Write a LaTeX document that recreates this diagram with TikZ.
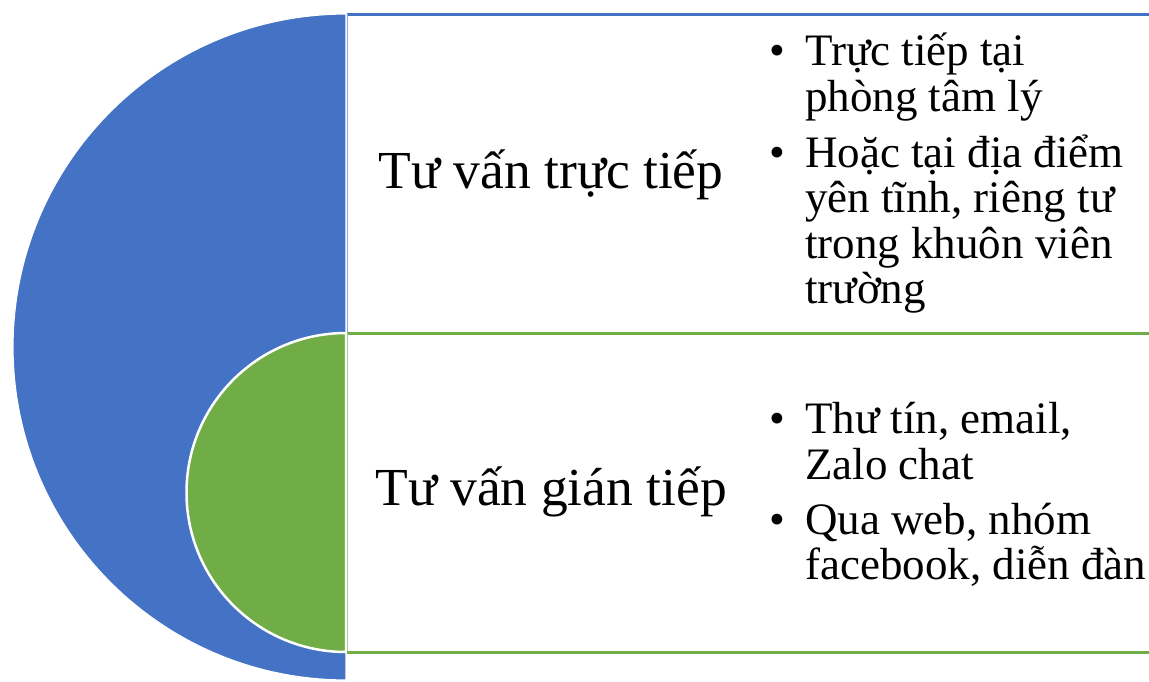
\documentclass[tikz,border=0pt]{standalone}
\usepackage{fontspec}
\setmainfont{Liberation Serif}
\definecolor{accblue}{HTML}{4472C4}
\definecolor{accgreen}{HTML}{70AD47}
\begin{document}
\begin{tikzpicture}[x=1pt,y=-1pt,
  title/.style={font=\fontsize{53.5}{56}\selectfont, inner sep=0pt},
  item/.style={font=\fontsize{45}{46}\selectfont, anchor=base west, inner sep=0pt},
  dot/.style={font=\fontsize{45}{46}\selectfont, anchor=base, inner sep=0pt}]
\useasboundingbox (0,0) rectangle (1149,681);
\begin{scope}
\clip (0,0) rectangle (1149,681);
% blue half disc
\fill[accblue, draw=white, line width=1.2pt] (346,14) arc[start angle=270, end angle=90, radius=333] -- cycle;
% green half disc
\fill[accgreen, draw=white, line width=2.5pt] (346,333) arc[start angle=270, end angle=90, radius=159.5] -- cycle;
% rectangles outlines
\draw[accblue, line width=3pt] (347,14) -- (1155,14);
\draw[accblue!60, line width=1.5pt] (347.5,14) -- (347.5,333);
\draw[accgreen, line width=3pt] (347,333) -- (1155,333);
\draw[accgreen!60, line width=1.5pt] (347.5,333) -- (347.5,652);
\draw[accgreen, line width=3pt] (347,652) -- (1155,652);
\draw[white, line width=1pt] (346,652) -- (346,681);
\end{scope}
% titles
\node[title] (t1) at (551,175) {Tư vấn trực tiếp};
\node[title] (t2) at (551,492) {Tư vấn gián tiếp};
% bullets block 1
\node[dot] (b1) at (777,65) {•};
\node[item] (l1) at (805,65) {Trực tiếp tại};
\node[item] (l2) at (805,111) {phòng tâm lý};
\node[dot] (b2) at (777,167) {•};
\node[item] (l3) at (805,167) {Hoặc tại địa điểm};
\node[item] (l4) at (805,212.5) {yên tĩnh, riêng tư};
\node[item] (l5) at (805,258) {trong khuôn viên};
\node[item] (l6) at (805,303.5) {trường};
% bullets block 2
\node[dot] (b3) at (777,433) {•};
\node[item] (m1) at (805,433) {Thư tín, email,};
\node[item] (m2) at (805,479) {Zalo chat};
\node[dot] (b4) at (777,534) {•};
\node[item] (m3) at (805,534) {Qua web, nhóm};
\node[item] (m4) at (805,579.5) {facebook, diễn đàn};
\end{tikzpicture}
\end{document}
